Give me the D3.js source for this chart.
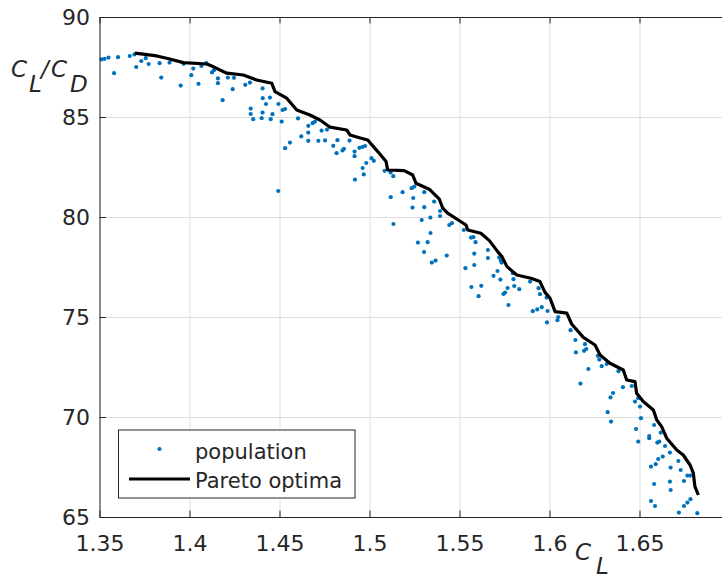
<!DOCTYPE html>
<html lang="en-US">
<head>
<meta charset="UTF-8" />
<title>Pareto front</title>
<style>
  body { margin: 0; background: #fff; }
  svg text { font-family: "DejaVu Sans", sans-serif; fill: #262626; }
  .grid line { stroke: #dedede; stroke-width: 1; }
  .grid path { display: none; }
  .axis path, .axis line { stroke: #262626; stroke-width: 1; }
</style>
<script src="https://d3js.org/d3.v7.min.js"></script>
</head>
<body>
<div id="chart"></div>
<script>
// population points (CL, CL/CD)
const popCL = [
  1.3511, 1.3528, 1.3550, 1.3603, 1.3581, 1.3668, 1.3694, 1.3704, 1.3732, 1.3757,
  1.3773, 1.3834, 1.3843, 1.3889, 1.3951, 1.3968, 1.4010, 1.4021, 1.4050, 1.4066,
  1.4093, 1.4125, 1.4136, 1.4158, 1.4158, 1.4184, 1.4213, 1.4240, 1.4247, 1.4310,
  1.4336, 1.4340, 1.4340, 1.4354, 1.4406, 1.4407, 1.4425, 1.4447, 1.4406, 1.4401,
  1.4451, 1.4461, 1.4494, 1.4517, 1.4531, 1.4512, 1.4531, 1.4558, 1.4493, 1.4603,
  1.4621, 1.4660, 1.4660, 1.4660, 1.4684, 1.4697, 1.4716, 1.4734, 1.4753, 1.4764,
  1.4799, 1.4817, 1.4822, 1.4850, 1.4858, 1.4889, 1.4917, 1.4917, 1.4919, 1.4944,
  1.4960, 1.4975, 1.4962, 1.4968, 1.4982, 1.5011, 1.5024, 1.5084, 1.5117, 1.5132,
  1.5118, 1.5133, 1.5184, 1.5234, 1.5249, 1.5243, 1.5239, 1.5304, 1.5304, 1.5290,
  1.5338, 1.5339, 1.5359, 1.5392, 1.5392, 1.5269, 1.5323, 1.5303, 1.5346, 1.5367,
  1.5429, 1.5443, 1.5458, 1.5524, 1.5564, 1.5577, 1.5589, 1.5582, 1.5582, 1.5533,
  1.5566, 1.5621, 1.5606, 1.5658, 1.5658, 1.5721, 1.5729, 1.5734, 1.5711, 1.5689,
  1.5727, 1.5796, 1.5800, 1.5804, 1.5832, 1.5767, 1.5753, 1.5744, 1.5772, 1.5892,
  1.5939, 1.5947, 1.5984, 1.5989, 1.5957, 1.5932, 1.5907, 1.5986, 1.6044, 1.6049,
  1.6117, 1.6144, 1.6147, 1.6192, 1.6204, 1.6197, 1.6216, 1.6172, 1.6269, 1.6277,
  1.6290, 1.6318, 1.6383, 1.6408, 1.6353, 1.6339, 1.6323, 1.6342, 1.6457, 1.6475,
  1.6493, 1.6503, 1.6508, 1.6481, 1.6493, 1.6554, 1.6554, 1.6581, 1.6618, 1.6599,
  1.6610, 1.6642, 1.6669, 1.6629, 1.6604, 1.6564, 1.6590, 1.6673, 1.6716, 1.6729,
  1.6766, 1.6781, 1.6747, 1.6669, 1.6673, 1.6581, 1.6564, 1.6586, 1.6747, 1.6766,
  1.6783, 1.6719, 1.6821
];
const popCLCD = [
  87.88, 87.91, 87.97, 87.99, 87.19, 88.05, 88.13, 87.50, 87.80, 87.94,
  87.65, 87.69, 86.97, 87.72, 86.57, 87.66, 87.09, 87.42, 86.66, 87.55,
  87.69, 87.23, 87.34, 86.93, 86.69, 85.84, 86.97, 86.39, 86.96, 86.61,
  86.72, 85.42, 85.15, 84.89, 86.43, 85.94, 85.65, 85.97, 85.22, 84.94,
  84.89, 85.14, 85.65, 85.35, 85.40, 84.77, 83.44, 83.72, 81.30, 84.93,
  84.03, 84.56, 84.22, 83.81, 84.69, 84.77, 83.81, 84.32, 83.83, 84.37,
  83.56, 83.19, 83.84, 83.33, 83.41, 83.82, 83.27, 83.04, 81.87, 83.46,
  83.50, 83.55, 82.45, 82.13, 82.70, 82.94, 82.81, 82.31, 82.23, 82.04,
  80.99, 79.65, 81.24, 81.44, 81.52, 80.95, 80.47, 81.24, 80.49, 79.85,
  79.97, 79.20, 80.77, 80.30, 80.05, 78.72, 78.74, 78.25, 77.72, 77.82,
  78.07, 79.60, 79.69, 79.35, 78.97, 78.99, 78.74, 78.17, 77.60, 77.44,
  76.50, 76.56, 76.04, 78.35, 77.95, 77.98, 77.82, 77.72, 77.30, 77.06,
  76.87, 77.19, 76.89, 76.55, 76.39, 76.45, 76.22, 76.15, 75.60, 76.77,
  76.44, 76.14, 75.97, 75.30, 75.49, 75.38, 75.29, 74.73, 74.84, 75.00,
  74.34, 73.85, 73.23, 73.31, 73.40, 73.64, 72.40, 71.67, 73.06, 72.87,
  72.54, 72.65, 72.29, 71.49, 71.20, 70.98, 70.24, 69.77, 71.55, 70.77,
  70.94, 70.52, 69.94, 69.40, 68.77, 69.05, 68.94, 69.60, 69.22, 68.72,
  68.77, 68.55, 68.22, 68.02, 67.90, 67.52, 67.64, 67.47, 67.80, 67.35,
  67.07, 67.07, 66.80, 66.77, 66.35, 66.65, 65.80, 65.55, 65.55, 65.72,
  65.89, 65.22, 65.19
];

// Pareto front
const paretoCL = [
  1.3697, 1.3808, 1.3873, 1.3966, 1.4096, 1.4131, 1.4207, 1.4299, 1.4373, 1.4457,
  1.4475, 1.4540, 1.4596, 1.4669, 1.4725, 1.4781, 1.4873, 1.4892, 1.4953, 1.4990,
  1.5046, 1.5092, 1.5101, 1.5193, 1.5240, 1.5258, 1.5332, 1.5388, 1.5407, 1.5434,
  1.5536, 1.5546, 1.5619, 1.5666, 1.5712, 1.5736, 1.5764, 1.5818, 1.5897, 1.5947,
  1.5975, 1.6003, 1.6031, 1.6096, 1.6123, 1.6188, 1.6253, 1.6281, 1.6336, 1.6410,
  1.6429, 1.6475, 1.6484, 1.6521, 1.6577, 1.6596, 1.6623, 1.6651, 1.6707, 1.6743,
  1.6781, 1.6799, 1.6808, 1.6827
];
const paretoCLCD = [
  88.19, 88.07, 87.94, 87.72, 87.65, 87.52, 87.19, 87.10, 86.85, 86.69,
  86.27, 85.94, 85.35, 85.10, 84.85, 84.49, 84.35, 84.10, 83.94, 83.85,
  83.27, 82.77, 82.35, 82.32, 82.10, 81.69, 81.39, 80.89, 80.44, 80.19,
  79.60, 79.35, 79.19, 78.82, 78.27, 78.02, 77.52, 77.10, 76.94, 76.77,
  76.23, 75.94, 75.27, 75.19, 74.65, 73.98, 73.60, 73.10, 72.69, 72.35,
  71.85, 71.77, 71.19, 70.77, 70.35, 69.85, 69.52, 68.94, 68.35, 68.10,
  67.60, 67.19, 66.52, 66.10
];

const xTicks = [1.35, 1.4, 1.45, 1.5, 1.55, 1.6, 1.65];
const yTicks = [65, 70, 75, 80, 85, 90];
const legendLabels = ["population", "Pareto optima"];

const width = 722, height = 578;
const mLeft = 99.5, mRight = 729.5, mTop = 17, mBottom = 517;

const x = d3.scaleLinear().domain([1.35, 1.7]).range([mLeft, mRight]);
const y = d3.scaleLinear().domain([65, 90]).range([mBottom, mTop]);

const svg = d3.select("#chart").append("svg")
  .attr("width", width).attr("height", height);

// grid
svg.append("g").attr("class", "grid")
  .attr("transform", `translate(0,${mBottom})`)
  .call(d3.axisBottom(x).tickValues(xTicks).tickSize(-(mBottom - mTop)).tickFormat(""));
svg.append("g").attr("class", "grid")
  .attr("transform", `translate(${mLeft},0)`)
  .call(d3.axisLeft(y).tickValues(yTicks).tickSize(-(mRight - mLeft)).tickFormat(""));

// population
const pts = popCL.map((d, i) => [d, popCLCD[i]]);
svg.append("g").selectAll("circle")
  .data(pts)
  .join("circle")
  .attr("cx", d => x(d[0]))
  .attr("cy", d => y(d[1]))
  .attr("r", 2.1)
  .attr("fill", "#0072BD");

// pareto line
const front = paretoCL.map((d, i) => [d, paretoCLCD[i]]);
svg.append("path")
  .datum(front)
  .attr("fill", "none")
  .attr("stroke", "#000")
  .attr("stroke-width", 3.2)
  .attr("stroke-linejoin", "round")
  .attr("d", d3.line().x(d => x(d[0])).y(d => y(d[1])));

// axes (ticks inward, box on top)
const fmt = d => String(d);
svg.append("g").attr("class", "axis")
  .attr("transform", `translate(0,${mBottom})`)
  .call(d3.axisBottom(x).tickValues(xTicks).tickSize(-6.5).tickSizeOuter(0).tickPadding(18).tickFormat(fmt));
svg.append("g").attr("class", "axis")
  .attr("transform", `translate(0,${mTop})`)
  .call(d3.axisTop(x).tickValues(xTicks).tickSize(-6.5).tickSizeOuter(0).tickFormat(""));
svg.append("g").attr("class", "axis")
  .attr("transform", `translate(${mLeft},0)`)
  .call(d3.axisLeft(y).tickValues(yTicks).tickSize(-6.5).tickSizeOuter(0).tickPadding(9.5).tickFormat(fmt));
svg.selectAll(".axis text").attr("font-size", 22).attr("fill", "#262626")
  .style("font-family", '"DejaVu Sans", sans-serif');

// axis labels
const yl = svg.append("text").attr("font-size", 23).attr("font-style", "italic");
yl.append("tspan").attr("x", 11).attr("y", 77).text("C");
yl.append("tspan").attr("x", 29).attr("y", 92).text("L");
yl.append("tspan").attr("x", 41).attr("y", 77).text("/");
yl.append("tspan").attr("x", 51).attr("y", 77).text("C");
yl.append("tspan").attr("x", 70).attr("y", 92).text("D");

const xl = svg.append("text").attr("font-size", 23).attr("font-style", "italic");
xl.append("tspan").attr("x", 575).attr("y", 560).text("C");
xl.append("tspan").attr("x", 596).attr("y", 574).text("L");

// legend
const lg = svg.append("g");
lg.append("rect")
  .attr("x", 118.5).attr("y", 430).attr("width", 236.5).attr("height", 68)
  .attr("fill", "#fff").attr("stroke", "#262626").attr("stroke-width", 1);
lg.append("circle").attr("cx", 159.5).attr("cy", 449).attr("r", 2.1).attr("fill", "#0072BD");
lg.append("line").attr("x1", 129).attr("x2", 190).attr("y1", 479).attr("y2", 479)
  .attr("stroke", "#000").attr("stroke-width", 3.2);
lg.selectAll("text.lab")
  .data(legendLabels)
  .join("text")
  .attr("class", "lab")
  .attr("x", 195)
  .attr("y", (d, i) => 459 + i * 28.5)
  .attr("font-size", 21)
  .text(d => d);
</script>
</body>
</html>
